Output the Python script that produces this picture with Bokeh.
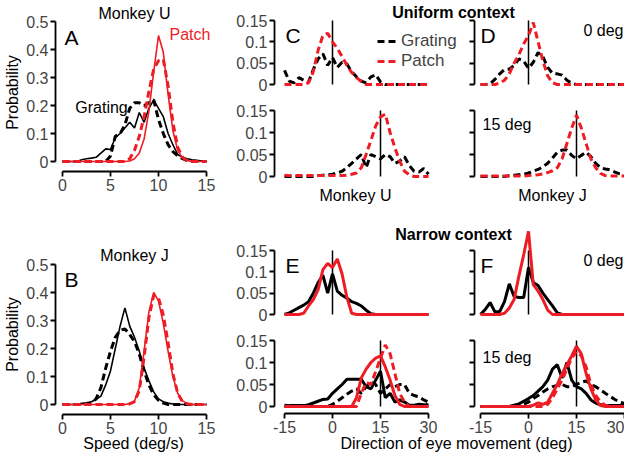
import math
from bokeh.plotting import figure
from bokeh.models import (Range1d, LinearAxis, FixedTicker, PrintfTickFormatter,
                          Label, Legend, LegendItem)
from bokeh.embed import file_html
from bokeh.resources import INLINE

# ---------------- data ----------------
speed = [0, 0.5, 1, 1.5, 2, 2.5, 3, 3.5, 4, 4.5, 5, 5.5, 6, 6.5, 7, 7.5, 8, 8.5, 9, 9.5,
         10, 10.5, 11, 11.5, 12, 12.5, 13, 13.5, 14, 14.5, 15]
direction = [-15, -13.5, -12, -10.5, -9, -7.5, -6, -4.5, -3, -1.5, 0, 1.5, 3, 4.5, 6, 7.5,
             9, 10.5, 12, 13.5, 15, 16.5, 18, 19.5, 21, 22.5, 24, 25.5, 27, 28.5, 30]
speed_ticks = [0, 5, 10, 15]
prob_ticks = [0, 0.1, 0.2, 0.3, 0.4, 0.5]
dir_ticks = [-15, 0, 15, 30]
dprob_ticks = [0, 0.05, 0.1, 0.15]
target_dirs = [0, 15]

A_grating_solid = [0,0,0,0,0.006,0.01,0.012,0.015,0.03,0.045,0.043,0.085,0.1,0.12,0.14,0.12,0.175,0.14,0.19,0.22,0.19,0.16,0.1,0.06,0.025,0.015,0.01,0.006,0.004,0.002,0]
A_grating_dashed = [0,0,0,0,0,0,0,0,0,0,0.02,0.09,0.1,0.13,0.19,0.21,0.21,0.2,0.21,0.22,0.15,0.1,0.06,0.035,0.02,0.01,0.003,0,0,0,0]
A_patch_solid = [0,0,0,0,0,0,0,0,0,0,0,0,0,0,0.002,0.01,0.03,0.08,0.18,0.32,0.45,0.39,0.24,0.11,0.04,0.012,0.003,0,0,0,0]
A_patch_dashed = [0,0,0,0,0,0,0,0,0,0,0,0,0,0,0.01,0.04,0.09,0.16,0.25,0.33,0.36,0.365,0.27,0.14,0.05,0.015,0.003,0,0,0,0]
B_grating_solid = [0,0,0,0,0.004,0.006,0.01,0.018,0.03,0.07,0.12,0.2,0.28,0.345,0.28,0.24,0.19,0.13,0.085,0.045,0.02,0.01,0.005,0.002,0,0,0,0,0,0,0]
B_grating_dashed = [0,0,0,0,0,0,0.005,0.02,0.06,0.13,0.19,0.24,0.265,0.27,0.25,0.225,0.18,0.12,0.07,0.035,0.015,0.005,0,0,0,0,0,0,0,0,0]
B_patch_solid = [0,0,0,0,0,0,0,0,0,0,0,0,0,0,0.003,0.012,0.06,0.19,0.33,0.4,0.37,0.29,0.19,0.1,0.04,0.013,0.004,0,0,0,0]
B_patch_dashed = [0,0,0,0,0,0,0,0,0,0,0,0,0,0,0.002,0.01,0.05,0.17,0.31,0.39,0.38,0.32,0.22,0.11,0.04,0.01,0.002,0,0,0,0]

C_top_grating = [0.033,0.008,0.004,0.016,0.01,0.006,0.035,0.06,0.072,0.045,0.063,0.04,0.052,0.048,0.03,0.018,0.008,0.004,0.018,0.023,0.006,0,0,0,0,0,0,0,0,0,0]
C_top_patch = [0,0,0,0,0,0.004,0.03,0.08,0.115,0.12,0.1,0.085,0.065,0.045,0.028,0.016,0.007,0,0,0,0,0,0,0,0,0,0,0,0,0,0]
C_bottom_grating = [0,0,0,0,0,0,0,0.002,0.003,0.004,0.005,0.008,0.012,0.02,0.03,0.04,0.05,0.02,0.05,0.045,0.04,0.05,0.045,0.03,0.035,0.045,0.025,0.012,0.01,0.018,0.005]
C_bottom_patch = [0.003,0.002,0.002,0.002,0.002,0.002,0.002,0.002,0.002,0.002,0.002,0.002,0.002,0.003,0.005,0.008,0.02,0.05,0.082,0.115,0.135,0.142,0.1,0.065,0.035,0.012,0.004,0,0,0,0]
D_top_grating = [0,0,0.002,0.012,0.025,0.035,0.036,0.045,0.06,0.055,0.038,0.052,0.075,0.065,0.04,0.026,0.025,0.022,0.01,0.003,0,0,0,0,0,0,0,0,0,0,0]
D_top_patch = [0,0,0,0,0.003,0.01,0.025,0.05,0.07,0.095,0.115,0.145,0.1,0.055,0.02,0.004,0,0,0,0,0,0,0,0,0,0,0,0,0,0,0]
D_bottom_grating = [0,0,0,0,0,0,0.002,0.003,0.004,0.005,0.008,0.012,0.016,0.022,0.03,0.042,0.055,0.06,0.06,0.048,0.04,0.048,0.055,0.045,0.03,0.02,0.017,0.015,0.01,0.006,0.003]
D_bottom_patch = [0.001,0.001,0.001,0.001,0.001,0.001,0.001,0.001,0.001,0.001,0.002,0.003,0.004,0.006,0.009,0.013,0.02,0.04,0.075,0.11,0.14,0.11,0.075,0.04,0.02,0.007,0.002,0.001,0.001,0.001,0.001]

E_top_grating = [0,0.004,0.01,0.016,0.022,0.03,0.05,0.075,0.092,0.05,0.095,0.055,0.045,0.038,0.03,0.026,0.02,0.01,0.002,0,0,0,0,0,0,0,0,0,0,0,0]
E_top_patch = [0,0,0,0,0.003,0.02,0.035,0.058,0.105,0.12,0.11,0.13,0.095,0.04,0.003,0,0,0,0,0,0,0,0,0,0,0,0,0,0,0,0]
E_bottom_grating_solid = [0.003,0.002,0.002,0.002,0.002,0.004,0.008,0.012,0.016,0.017,0.03,0.04,0.05,0.062,0.062,0.062,0.062,0.045,0.04,0.06,0.08,0.02,0.03,0.01,0.015,0.01,0.003,0.003,0.005,0.004,0.004]
E_bottom_grating_dashed = [0,0,0,0,0,0,0,0,0,0,0.005,0.012,0.02,0.028,0.035,0.04,0.03,0.045,0.055,0.05,0.03,0.04,0.05,0.045,0.05,0.05,0.03,0.025,0.022,0.015,0.01]
E_bottom_patch_solid = [0,0,0,0,0,0,0,0,0,0,0,0,0,0,0,0.02,0.065,0.085,0.1,0.11,0.115,0.09,0.06,0.025,0.005,0,0,0,0,0,0]
E_bottom_patch_dashed = [0,0,0,0,0,0,0,0,0,0,0,0,0,0,0,0,0.03,0.055,0.05,0.08,0.11,0.14,0.12,0.075,0.03,0.01,0,0,0,0,0]
F_top_grating = [0,0.012,0.028,0.006,0.007,0.03,0.072,0.042,0.04,0.04,0.11,0.075,0.068,0.05,0.035,0.02,0.004,0,0,0,0,0,0,0,0,0,0,0,0,0,0]
F_top_patch = [0,0,0,0,0,0.003,0.015,0.035,0.09,0.14,0.195,0.07,0.055,0.035,0.01,0,0,0,0,0,0,0,0,0,0,0,0,0,0,0,0]
F_bottom_grating_solid = [0,0,0,0,0,0,0,0.003,0.006,0.012,0.018,0.025,0.035,0.045,0.06,0.085,0.095,0.065,0.1,0.06,0.045,0.04,0.03,0.015,0.008,0.004,0.002,0.002,0.002,0.002,0.002]
F_bottom_grating_dashed = [0,0,0,0,0,0,0,0,0,0.005,0.01,0.018,0.025,0.033,0.04,0.045,0.048,0.05,0.045,0.045,0.05,0.055,0.058,0.05,0.045,0.038,0.03,0.023,0.016,0.01,0.007]
F_bottom_patch_solid = [0,0,0,0,0,0,0,0,0,0,0,0.003,0.008,0.005,0.01,0.03,0.05,0.075,0.095,0.115,0.137,0.12,0.075,0.04,0.015,0.002,0,0,0,0,0]
F_bottom_patch_dashed = [0,0,0,0,0,0,0,0,0,0,0,0,0,0,0.005,0.02,0.04,0.06,0.085,0.11,0.125,0.115,0.09,0.05,0.025,0.01,0.003,0,0,0,0]

# ---------------- canvas ----------------
W, H, M = 624, 452, 8
FONT = "Liberation Sans"
RED = "#ee1c24"
BLACK = "#000000"
DASH = "7 4"

p = figure(width=W, height=H, output_backend="svg", toolbar_location=None,
           x_axis_location=None, y_axis_location=None, min_border=0,
           x_range=Range1d(M, M + W), y_range=Range1d(M + H, M))
p.outline_line_color = None
p.grid.visible = False

xr, yr = {}, {}


def xmap(name, v0, v1, px0, px1):
    k = (v1 - v0) / (px1 - px0)
    s = v0 - (px0 - M) * k
    xr[name] = Range1d(s, s + W * k)


def ymap(name, v0, v1, py0, py1):
    k = (v1 - v0) / (py0 - py1)
    s = v0 - (M + H - py0) * k
    yr[name] = Range1d(s, s + H * k)


def xval(name, px):
    r = xr[name]
    return r.start + (px - M) * (r.end - r.start) / W


def yval(name, py):
    r = yr[name]
    return r.start + (M + H - py) * (r.end - r.start) / H


# panel placements (page pixels)
xmap("spd", 0, 15, 70, 214)
ymap("A", 0, 0.5, 169, 29)
ymap("B", 0, 0.5, 412, 272)
xmap("dL", 0, 15, 340, 388)
xmap("dR", 0, 15, 536, 584)
ymap("r1", 0, 0.15, 92, 28)
ymap("r2", 0, 0.15, 184, 118)
ymap("r3", 0, 0.15, 322, 258)
ymap("r4", 0, 0.15, 414, 348)
p.extra_x_ranges = xr
p.extra_y_ranges = yr


def style_axis(ax, labels=True):
    ax.axis_line_width = 1.8
    ax.major_tick_line_width = 1.8
    ax.major_tick_out = 5
    ax.major_tick_in = 0
    ax.minor_tick_out = 0
    ax.minor_tick_in = 0
    ax.major_label_text_font = FONT
    ax.major_label_text_font_size = "16px"
    ax.major_label_standoff = 2
    if not labels:
        ax.major_label_text_color = None


def yaxis(xname, yname, px, ticks, labels=True):
    ax = LinearAxis(x_range_name=xname, y_range_name=yname,
                    fixed_location=xval(xname, px), bounds=(ticks[0], ticks[-1]),
                    ticker=FixedTicker(ticks=ticks),
                    formatter=PrintfTickFormatter(format="%g"))
    style_axis(ax, labels)
    p.add_layout(ax, "left")


def xaxis(xname, yname, py, ticks):
    ax = LinearAxis(x_range_name=xname, y_range_name=yname,
                    fixed_location=yval(yname, py), bounds=(ticks[0], ticks[-1]),
                    ticker=FixedTicker(ticks=ticks),
                    formatter=PrintfTickFormatter(format="%g"))
    style_axis(ax)
    p.add_layout(ax, "below")


def ln(xs, ys, xname, yname, color, dashed=False, width=3):
    return p.line(xs, ys, x_range_name=xname, y_range_name=yname, line_color=color,
                  line_width=width, line_dash=DASH if dashed else "solid")


def target(xname, yname, d):
    p.segment(x0=[d], y0=[dprob_ticks[0]], x1=[d], y1=[dprob_ticks[-1]],
              x_range_name=xname, y_range_name=yname, line_color=BLACK, line_width=1.5)


# ---- axes ----
yaxis("spd", "A", 63, prob_ticks)
xaxis("spd", "A", 179, speed_ticks)
yaxis("spd", "B", 63, prob_ticks)
xaxis("spd", "B", 422, speed_ticks)
for yn in ["r1", "r2", "r3", "r4"]:
    yaxis("dL", yn, 282, dprob_ticks, True)
    yaxis("dR", yn, 482, dprob_ticks, False)
xaxis("dL", "r4", 421, dir_ticks)
xaxis("dR", "r4", 421, dir_ticks)

# ---- target direction lines ----
for xn in ["dL", "dR"]:
    target(xn, "r1", target_dirs[0])
    target(xn, "r2", target_dirs[1])
    target(xn, "r3", target_dirs[0])
    target(xn, "r4", target_dirs[1])

# ---- speed panels ----
ln(speed, A_grating_solid, "spd", "A", BLACK, False, 1.6)
ln(speed, A_grating_dashed, "spd", "A", BLACK, True, 3)
ln(speed, A_patch_solid, "spd", "A", RED, False, 1.6)
ln(speed, A_patch_dashed, "spd", "A", RED, True, 3)
ln(speed, B_grating_solid, "spd", "B", BLACK, False, 1.6)
ln(speed, B_grating_dashed, "spd", "B", BLACK, True, 3)
ln(speed, B_patch_solid, "spd", "B", RED, False, 1.6)
ln(speed, B_patch_dashed, "spd", "B", RED, True, 3)

# ---- uniform context ----
rg = ln(direction, C_top_grating, "dL", "r1", BLACK, True)
rp = ln(direction, C_top_patch, "dL", "r1", RED, True)
ln(direction, C_bottom_grating, "dL", "r2", BLACK, True)
ln(direction, C_bottom_patch, "dL", "r2", RED, True)
ln(direction, D_top_grating, "dR", "r1", BLACK, True)
ln(direction, D_top_patch, "dR", "r1", RED, True)
ln(direction, D_bottom_grating, "dR", "r2", BLACK, True)
ln(direction, D_bottom_patch, "dR", "r2", RED, True)

# ---- narrow context ----
ln(direction, E_top_grating, "dL", "r3", BLACK)
ln(direction, E_top_patch, "dL", "r3", RED)
ln(direction, E_bottom_grating_solid, "dL", "r4", BLACK)
ln(direction, E_bottom_grating_dashed, "dL", "r4", BLACK, True)
ln(direction, E_bottom_patch_solid, "dL", "r4", RED)
ln(direction, E_bottom_patch_dashed, "dL", "r4", RED, True)
ln(direction, F_top_grating, "dR", "r3", BLACK)
ln(direction, F_top_patch, "dR", "r3", RED)
ln(direction, F_bottom_grating_solid, "dR", "r4", BLACK)
ln(direction, F_bottom_grating_dashed, "dR", "r4", BLACK, True)
ln(direction, F_bottom_patch_solid, "dR", "r4", RED)
ln(direction, F_bottom_patch_dashed, "dR", "r4", RED, True)

# ---- legend ----
legend = Legend(items=[LegendItem(label="Grating", renderers=[rg]),
                       LegendItem(label="Patch", renderers=[rp])],
                location=(377, M + H - 79), glyph_width=19, glyph_height=18,
                label_height=18, spacing=0, padding=0, margin=0, label_standoff=5,
                border_line_color=None, background_fill_alpha=0,
                label_text_font=FONT, label_text_font_size="17px")
p.add_layout(legend)


# ---- texts ----
def txt(x, y, s, size="16px", align="center", baseline="alphabetic", color=BLACK,
        bold=False, angle=0.0):
    p.add_layout(Label(x=x, y=y, text=s, text_font=FONT, text_font_size=size,
                       text_align=align, text_baseline=baseline, text_color=color,
                       text_font_style="bold" if bold else "normal", angle=angle))


txt(142, 21, "Monkey U")
txt(142, 263, "Monkey J")
txt(20, 100, "Probability", angle=math.pi / 2)
txt(20, 342, "Probability", angle=math.pi / 2)
txt(141, 451, "Speed (deg/s)")
txt(464, 451, "Direction of eye movement (deg)")
txt(109, 115, "Grating", align="center")
txt(177, 42, "Patch", align="left", color=RED)
txt(461, 20, "Uniform context", bold=True)
txt(461, 242, "Narrow context", bold=True)
txt(363, 203, "Monkey U")
txt(560, 203, "Monkey J")
txt(631, 38, "0 deg", align="right")
txt(490, 132, "15 deg", align="left")
txt(631, 268, "0 deg", align="right")
txt(490, 365, "15 deg", align="left")
for letter, lx, ly in [("A", 72, 45), ("B", 72, 287), ("C", 293, 43), ("D", 488, 43),
                       ("E", 293, 273), ("F", 488, 273)]:
    txt(lx, ly, letter, size="21px", align="left")

open("out.html", "w").write(file_html(p, INLINE))
